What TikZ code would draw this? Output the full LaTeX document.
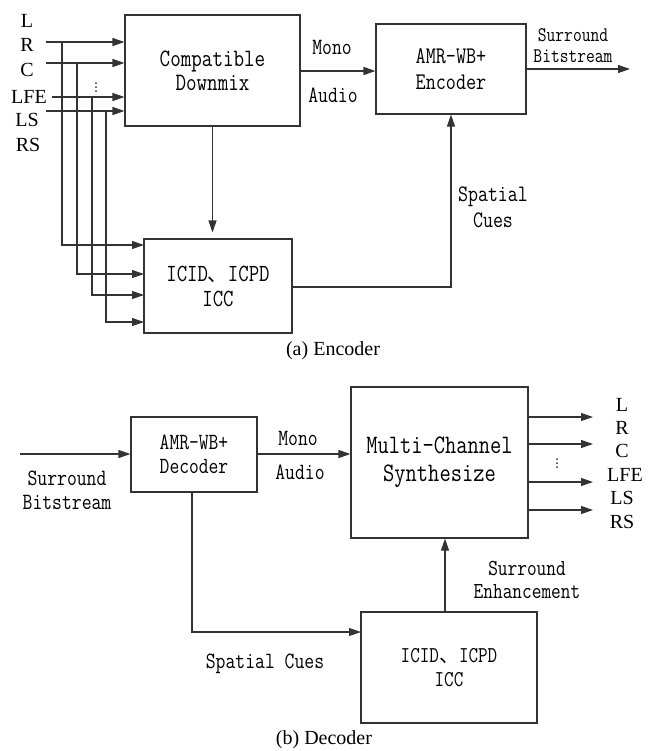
\documentclass[tikz,border=0pt]{standalone}
\usepackage{fontspec}
\setmainfont{Liberation Serif}
\newfontfamily\mono[FakeStretch=0.82]{Latin Modern Mono}
\newfontfamily\cjk{Noto Sans CJK SC}
\usetikzlibrary{arrows.meta}
\newcommand{\dun}{{\cjk\fontsize{15}{15}\selectfont 、}}
\begin{document}
\begin{tikzpicture}[x=0.75pt,y=-0.75pt,
  ln/.style={draw=black!80, line width=0.8pt},
  arr/.style={ln, -{Triangle[length=9pt,width=6pt]}},
  box/.style={draw=black!80, line width=0.8pt, inner sep=0pt, align=center},
  sr/.style={font=\fontsize{15}{15}\selectfont, inner sep=0pt},
  lab/.style={font=\mono\fontsize{17.5}{19.5}\selectfont, inner sep=0pt, align=center},
  dotc/.style={fill=black!80, draw=none, circle, inner sep=0pt, minimum size=1.5pt}
]
\useasboundingbox (0,0) rectangle (648,751);

% ================= Encoder =================
\node[box, minimum width=131.25pt, minimum height=83.25pt,
      font=\mono\fontsize{18.75}{18}\selectfont] (dm) at (212.5,70.5) {Compatible\\Downmix};
\node[box, minimum width=112.5pt, minimum height=67.5pt,
      font=\mono\fontsize{17.9}{19.5}\selectfont] (enc) at (451,69) {AMR—WB+\\Encoder};
\node[box, minimum width=111pt, minimum height=70.5pt,
      font=\mono\fontsize{18.5}{18.75}\selectfont] (icidE) at (218,286) {ICID\dun ICPD\\ICC};

% input labels
\node[sr] (lL) at (27,21) {L};
\node[sr] (lR) at (27,45) {R};
\node[sr] (lC) at (27,70) {C};
\node[sr] (lLFE) at (29,97) {LFE};
\node[sr] (lLS) at (27,120) {LS};
\node[sr] (lRS) at (28,145) {RS};
\node[dotc] (dE1) at (96,83) {};
\node[dotc] (dE2) at (96,87) {};
\node[dotc] (dE3) at (96,91) {};

\coordinate (inR) at (46,42);
\coordinate (inC) at (46,63);
\coordinate (inLFE) at (52,97);
\coordinate (inLS) at (46,111);
\coordinate (jR) at (62,42);
\coordinate (jC) at (77,63);
\coordinate (jLFE) at (92,97);
\coordinate (jLS) at (106,111);

\draw[arr] (inR) -- (inR -| dm.west);
\draw[arr] (inC) -- (inC -| dm.west);
\draw[arr] (inLFE) -- (inLFE -| dm.west);
\draw[arr] (inLS) -- (inLS -| dm.west);

\coordinate (eR) at (144,245);
\coordinate (eC) at (144,274);
\coordinate (eLFE) at (144,295);
\coordinate (eLS) at (144,322);
\draw[arr] (jR) |- (eR);
\draw[arr] (jC) |- (eC);
\draw[arr] (jLFE) |- (eLFE);
\draw[arr] (jLS) |- (eLS);

\draw[arr, shorten >=4.5pt] (dm.south) -- (dm.south |- icidE.north);

\coordinate (mE) at (300,71);
\draw[arr] (mE) -- (mE -| enc.west);
\node[lab] (monoE) at (332,47) {Mono};
\node[lab] (audioE) at (333,95) {Audio};

\coordinate (oE) at (526,69);
\coordinate (outE) at (630,69);
\draw[arr] (oE) -- (outE);
\node[lab, font=\mono\fontsize{15.6}{15.75}\selectfont] (sbE) at (573,45.5) {Surround\\Bitstream};

\coordinate (cE) at (292,287);
\draw[arr] (cE) -| (enc.south);
\node[lab, font=\mono\fontsize{17.7}{19.5}\selectfont] (scE) at (493,207) {Spatial\\Cues};

\node[sr] (capA) at (333,351) {(a) Encoder};

% ================= Decoder =================
\node[box, minimum width=94.5pt, minimum height=56.25pt,
      font=\mono\fontsize{17.4}{18}\selectfont] (dec) at (194,454.5) {AMR—WB+\\Decoder};
\node[box, minimum width=132.75pt, minimum height=113.25pt,
      font=\mono\fontsize{20}{21}\selectfont] (mc) at (439.5,462.5) {Multi—Channel\\Synthesize};
\node[box, minimum width=132pt, minimum height=83.25pt,
      font=\mono\fontsize{17}{18}\selectfont] (icidD) at (449,667.5) {ICID\dun ICPD\\ICC};

\coordinate (inD) at (20,454);
\draw[arr] (inD) -- (inD -| dec.west);
\node[lab, font=\mono\fontsize{17.5}{18}\selectfont] (sbD) at (67,490) {Surround\\Bitstream};

\coordinate (mD) at (257,454);
\draw[arr] (mD) -- (mD -| mc.west);
\node[lab] (monoD) at (298,438) {Mono};
\node[lab] (audioD) at (300,472) {Audio};

\coordinate (dD) at (192,492);
\coordinate (cD) at (361,632);
\draw[arr] (dD) |- (cD);
\node[lab] (scD) at (265,664) {Spatial Cues};

\coordinate (uD) at (445,612);
\draw[arr] (uD) -- (uD |- mc.south);
\node[lab, font=\mono\fontsize{17.2}{17.25}\selectfont] (seD) at (527,579.5) {Surround\\Enhancement};

\coordinate (o1) at (528,417);
\coordinate (o2) at (528,444);
\coordinate (o3) at (528,482);
\coordinate (o4) at (528,510);
\coordinate (t1) at (593,417);
\coordinate (t2) at (593,444);
\coordinate (t3) at (593,482);
\coordinate (t4) at (593,510);
\draw[arr] (o1) -- (t1);
\draw[arr] (o2) -- (t2);
\draw[arr] (o3) -- (t3);
\draw[arr] (o4) -- (t4);
\node[dotc] (dD1) at (557,459) {};
\node[dotc] (dD2) at (557,463) {};
\node[dotc] (dD3) at (557,467) {};

\node[sr] (rL) at (622,405) {L};
\node[sr] (rR) at (622,428) {R};
\node[sr] (rC) at (622,451) {C};
\node[sr] (rLFE) at (625,475) {LFE};
\node[sr] (rLS) at (622,498) {LS};
\node[sr] (rRS) at (622,522) {RS};

\node[sr] (capB) at (324,740) {(b) Decoder};
\end{tikzpicture}
\end{document}
